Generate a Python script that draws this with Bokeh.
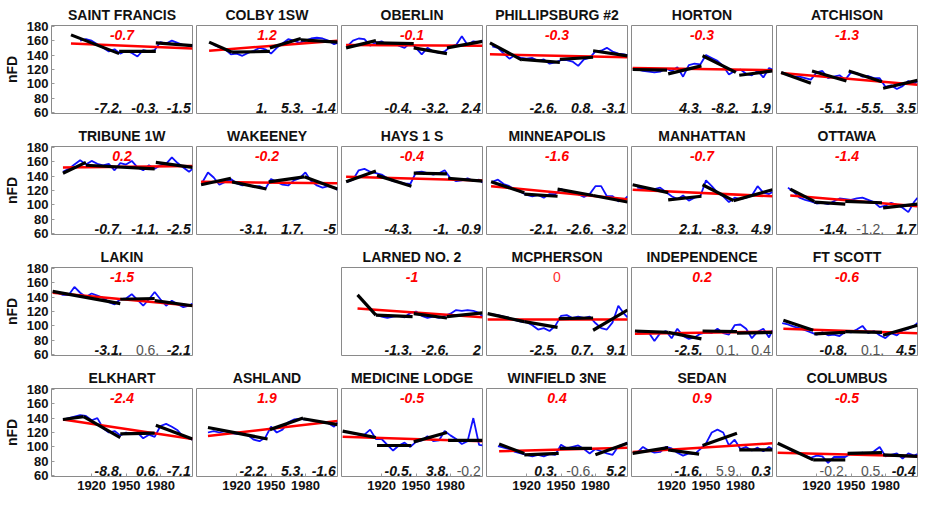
import numpy as np
from bokeh.plotting import figure
from bokeh.layouts import column, row, Spacer
from bokeh.models import Range1d, FixedTicker, LinearAxis
from bokeh.core.properties import value
from bokeh.embed import file_html
from bokeh.resources import INLINE

N = None
YEARS = [1890, 1895, 1900, 1905, 1910, 1915, 1920, 1925, 1930, 1935, 1940, 1945,
         1950, 1955, 1960, 1965, 1970, 1975, 1980, 1985, 1990, 1995, 2000, 2005, 2008]

# ---- station names (grid order, None = empty cell) ----
GRID = [
    ["SAINT FRANCIS", "COLBY 1SW", "OBERLIN", "PHILLIPSBURG #2", "HORTON", "ATCHISON"],
    ["TRIBUNE 1W", "WAKEENEY", "HAYS 1 S", "MINNEAPOLIS", "MANHATTAN", "OTTAWA"],
    ["LAKIN", None, "LARNED NO. 2", "MCPHERSON", "INDEPENDENCE", "FT SCOTT"],
    ["ELKHART", "ASHLAND", "MEDICINE LODGE", "WINFIELD 3NE", "SEDAN", "COLUMBUS"],
]

# ---- blue series: nFD per year of YEARS ----
SAINT_FRANCIS = [N, N, N, N, 160, 162, 160, 155, 150, 145, 148, 142, 146, 143, 138, 147, 145, 147, 158, 156, 160, 157, 154, 153, 153]
COLBY_1SW = [N, N, 154, 151, 148, 141, 142, 139, 143, 146, 150, 148, 142, 150, 156, 162, 160, 157, 160, 163, 164, 163, 160, 155, 157]
OBERLIN = [152, 160, 163, 162, 153, 157, 159, 154, 157, 153, 150, 157, 150, 141, 150, 145, 143, 145, 152, 154, 166, 154, 159, 158, 160]
PHILLIPSBURG = [152, 150, 142, 135, 140, 136, 135, 136, 132, 134, 128, 130, 133, 133, 131, 125, 134, 136, 145, 146, 150, 145, 142, 141, 140]
HORTON = [120, 118, 117, 116, 117, 121, 118, 123, 110, 126, 128, 127, 140, 136, 132, 125, 113, 118, 120, 114, 112, 118, 109, 122, 120]
ATCHISON = [116, 112, 110, 110, 108, 106, 116, 118, 108, 110, 112, 106, 116, 115, 110, 111, 108, 108, 96, 98, 93, 97, 104, 100, 104]
TRIBUNE_1W = [N, 146, 150, 156, 162, 156, 161, 157, 155, 157, 148, 158, 156, 161, 152, 148, 155, 150, 155, 157, 166, 158, 152, 146, 150]
WAKEENEY = [131, 145, 138, 128, 132, 136, 130, 127, 128, 125, 126, 122, 136, 132, 128, 127, 134, 137, 145, 133, 127, 124, 126, 124, 121]
HAYS_1S = [132, 135, 148, 150, 146, 144, 142, 137, 133, 132, 130, 129, 145, 146, 144, 142, 144, 148, 137, 133, 134, 137, 133, 135, 131]
MINNEAPOLIS = [132, 135, 129, 126, 121, 118, 114, 112, 114, 110, 115, 115, 122, 119, 117, 115, 111, 115, 126, 126, 112, 112, 105, 107, 112]
MANHATTAN = [124, 123, 122, 122, 124, 118, 112, 108, 113, 106, 110, 112, 134, 126, 117, 112, 104, 110, 108, 110, 113, 126, 117, 115, 118]
OTTAWA = [N, 124, 118, 110, 107, 105, 102, 103, 101, 105, 109, 108, 107, 109, 110, 107, 104, 97, 99, 103, 100, 96, 90, 104, 110]
LAKIN = [146, 143, 143, 154, 146, 140, 145, 142, 139, 133, 130, 137, 138, 144, 136, 128, 137, 147, 137, 128, 135, 130, 126, 128, 131]
LARNED_NO2 = [N, N, N, N, N, 116, 113, 111, 113, 114, 112, 118, 120, 114, 111, 113, 111, 114, 117, 122, 121, 122, 121, 118, 113]
MCPHERSON = [116, 115, 113, 111, 108, 106, 105, 101, 95, 97, 93, 100, 114, 115, 111, 113, 111, 113, 104, 97, 95, 105, 128, 117, 112]
INDEPENDENCE = [91, 91, 91, 79, 90, 93, 83, 96, 86, 82, 84, 89, 91, 90, 96, 90, 88, 101, 102, 96, 83, 92, 96, 84, 94]
FT_SCOTT = [104, 102, 99, 97, 94, 91, 88, 91, 87, 88, 86, 92, 91, 95, 100, 90, 93, 87, 83, 90, 87, 94, 96, 100, 104]
ELKHART = [N, 138, 140, 142, 144, 143, 137, 140, 126, 120, 122, 116, 120, 118, 120, 112, 117, 114, 129, 132, 128, 123, 114, 112, 110]
ASHLAND = [N, 120, 122, 120, 122, 119, 118, 118, 116, 110, 108, 113, 128, 120, 124, 134, 138, 139, 138, 137, 135, 134, 133, 128, 134]
MEDICINE_LODGE = [121, 119, 117, 117, 124, 111, 111, 103, 95, 102, 106, 100, 107, 109, 115, 108, 109, 122, 116, 111, 104, 108, 140, 103, 102]
WINFIELD_3NE = [N, 101, 99, 97, 93, 91, 89, 87, 89, 87, 90, 89, 103, 98, 100, 102, 97, 91, 97, 94, 91, 89, 101, 104, 106]
SEDAN = [92, 100, 95, 92, 93, 100, 98, 92, 88, 91, 90, 97, 105, 120, 124, 120, 102, 110, 97, 100, 95, 99, 94, 100, 97]
COLUMBUS = [102, 98, 93, 91, 88, 85, 88, 87, 78, 86, 86, 86, 91, 90, 92, 89, 94, 100, 87, 89, 91, 84, 91, 88, 90]

SERIES = [SAINT_FRANCIS, COLBY_1SW, OBERLIN, PHILLIPSBURG, HORTON, ATCHISON,
          TRIBUNE_1W, WAKEENEY, HAYS_1S, MINNEAPOLIS, MANHATTAN, OTTAWA,
          LAKIN, LARNED_NO2, MCPHERSON, INDEPENDENCE, FT_SCOTT,
          ELKHART, ASHLAND, MEDICINE_LODGE, WINFIELD_3NE, SEDAN, COLUMBUS]

# ---- red overall trend: start year, start value, end value (end year 2008) ----
TREND_START_YEAR = [1902, 1896, 1889, 1888, 1886, 1889, 1895, 1889, 1889, 1889, 1886, 1897,
                    1886, 1899, 1886, 1888, 1891, 1895, 1895, 1886, 1896, 1886, 1886]
TREND_START = [156, 146, 154, 141, 122, 115, 152, 132, 139, 126, 121, 113,
               146, 124, 109, 89, 96, 138, 115, 114, 94, 93, 92]
TREND_END = [149, 160, 153, 137, 119, 99, 154, 130, 134, 108, 112, 98,
             128, 112, 109, 92, 90, 111, 136, 108, 99, 105, 87]
TREND_END_YEAR = 2008
TREND_LABEL = ["-0.7", "1.2", "-0.1", "-0.3", "-0.3", "-1.3", "0.2", "-0.2", "-0.4", "-1.6", "-0.7", "-1.4",
               "-1.5", "-1", "0", "0.2", "-0.6", "-2.4", "1.9", "-0.5", "0.4", "0.9", "-0.5"]
TREND_SIG = [1, 1, 1, 1, 1, 1, 1, 1, 1, 1, 1, 1, 1, 1, 0, 1, 1, 1, 1, 1, 1, 1, 1]

# ---- black piecewise segments: (year0, value0, year1, value1) ----
SEG_SAINT_FRANCIS = [(1902, 168, 1944, 142), (1944, 145, 1976, 145), (1976, 157, 2008, 153)]
SEG_COLBY_1SW = [(1896, 158, 1916, 144), (1916, 144, 1949, 145), (1949, 150, 1976, 163), (1976, 161, 2008, 158)]
SEG_OBERLIN = [(1889, 150, 1915, 160), (1915, 157, 1948, 156), (1948, 150, 1977, 142), (1977, 150, 2008, 159)]
SEG_PHILLIPSBURG = [(1888, 157, 1916, 133), (1916, 134, 1949, 130), (1949, 134, 1978, 137), (1978, 146, 2008, 139)]
SEG_HORTON = [(1886, 120, 1916, 119), (1917, 114, 1946, 125), (1947, 139, 1976, 116), (1979, 112, 2008, 118)]
SEG_ATCHISON = [(1889, 116, 1915, 101), (1916, 118, 1946, 104), (1948, 118, 1977, 103), (1978, 94, 2008, 105)]
SEG_TRIBUNE_1W = [(1895, 144, 1915, 159), (1915, 155, 1975, 150), (1976, 159, 2008, 152)]
SEG_WAKEENEY = [(1889, 128, 1915, 137), (1916, 132, 1946, 122), (1948, 132, 1979, 139), (1979, 139, 2008, 122)]
SEG_HAYS_1S = [(1889, 132, 1915, 147), (1916, 141, 1946, 126), (1948, 144, 1977, 143), (1978, 137, 2008, 133)]
SEG_MINNEAPOLIS = [(1889, 132, 1918, 117), (1918, 115, 1947, 112), (1947, 122, 1978, 113), (1978, 113, 2008, 104)]
SEG_MANHATTAN = [(1886, 128, 1917, 117), (1917, 107, 1946, 112), (1947, 128, 1974, 106), (1974, 106, 2008, 121)]
SEG_OTTAWA = [(1897, 122, 1918, 105), (1918, 104, 1945, 101), (1945, 105, 1977, 103), (1978, 96, 2008, 101)]
SEG_LAKIN = [(1886, 148, 1945, 131), (1945, 137, 1975, 138), (1975, 135, 2008, 128)]
SEG_LARNED_NO2 = [(1899, 143, 1915, 115), (1915, 115, 1947, 113), (1948, 117, 1977, 111), (1977, 113, 2008, 118)]
SEG_MCPHERSON = [(1886, 117, 1918, 106), (1918, 106, 1947, 98), (1948, 110, 1978, 111), (1978, 94, 2008, 122)]
SEG_INDEPENDENCE = [(1888, 93, 1917, 91), (1917, 91, 1946, 82), (1947, 93, 1977, 92), (1977, 90, 2008, 91)]
SEG_FT_SCOTT = [(1891, 108, 1917, 94), (1918, 89, 1945, 91), (1945, 92, 1977, 91), (1978, 87, 2008, 101)]
SEG_ELKHART = [(1895, 138, 1913, 142), (1913, 142, 1945, 113), (1945, 118, 1975, 119), (1976, 130, 2008, 111)]
SEG_ASHLAND = [(1895, 127, 1947, 111), (1949, 124, 1978, 140), (1978, 139, 2008, 131)]
SEG_MEDICINE_LODGE = [(1886, 122, 1915, 113), (1916, 102, 1946, 102), (1948, 107, 1977, 120), (1978, 109, 2008, 109)]
SEG_WINFIELD_3NE = [(1896, 104, 1918, 91), (1918, 89, 1948, 91), (1949, 98, 1977, 98), (1980, 89, 2008, 105)]
SEG_SEDAN = [(1886, 91, 1917, 99), (1917, 96, 1944, 90), (1947, 102, 1977, 119), (1979, 96, 2008, 96)]
SEG_COLUMBUS = [(1886, 105, 1917, 82), (1917, 82, 1945, 82), (1947, 91, 1977, 92), (1978, 89, 2008, 87)]

SEGMENTS = [SEG_SAINT_FRANCIS, SEG_COLBY_1SW, SEG_OBERLIN, SEG_PHILLIPSBURG, SEG_HORTON, SEG_ATCHISON,
            SEG_TRIBUNE_1W, SEG_WAKEENEY, SEG_HAYS_1S, SEG_MINNEAPOLIS, SEG_MANHATTAN, SEG_OTTAWA,
            SEG_LAKIN, SEG_LARNED_NO2, SEG_MCPHERSON, SEG_INDEPENDENCE, SEG_FT_SCOTT,
            SEG_ELKHART, SEG_ASHLAND, SEG_MEDICINE_LODGE, SEG_WINFIELD_3NE, SEG_SEDAN, SEG_COLUMBUS]

# ---- segment slope labels and significance (1 = bold black, 0 = plain gray) ----
SEG_LABELS = [("-7.2", "-0.3", "-1.5"), ("1", "5.3", "-1.4"), ("-0.4", "-3.2", "2.4"),
              ("-2.6", "0.8", "-3.1"), ("4.3", "-8.2", "1.9"), ("-5.1", "-5.5", "3.5"),
              ("-0.7", "-1.1", "-2.5"), ("-3.1", "1.7", "-5"), ("-4.3", "-1", "-0.9"),
              ("-2.1", "-2.6", "-3.2"), ("2.1", "-8.3", "4.9"), ("-1.4", "-1.2", "1.7"),
              ("-3.1", "0.6", "-2.1"), ("-1.3", "-2.6", "2"), ("-2.5", "0.7", "9.1"),
              ("-2.5", "0.1", "0.4"), ("-0.8", "0.1", "4.5"),
              ("-8.8", "0.6", "-7.1"), ("-2.2", "5.3", "-1.6"), ("-0.5", "3.8", "-0.2"),
              ("0.3", "-0.6", "5.2"), ("-1.6", "5.9", "0.3"), ("-0.2", "0.5", "-0.4")]
SEG_SIG = [(1, 1, 1), (1, 1, 1), (1, 1, 1), (1, 1, 1), (1, 1, 1), (1, 1, 1),
           (1, 1, 1), (1, 1, 1), (1, 1, 1), (1, 1, 1), (1, 1, 1), (1, 0, 1),
           (1, 0, 1), (1, 1, 1), (1, 1, 1), (1, 0, 0), (1, 0, 1),
           (1, 1, 1), (1, 1, 1), (1, 1, 0), (1, 0, 1), (1, 0, 1), (0, 0, 1)]

Y_TICKS = [60, 80, 100, 120, 140, 160, 180]
X_TICKS = [1920, 1950, 1980]

FONT = "Liberation Sans"
X0, X1 = 1885, 2008
Y0, Y1 = 59, 181
FW, FH = 141, 88
TOP, BOT, BOT_LAST = 25, 8, 22
LABEL_X = [1947, 1979, 2006.5]
LABEL_Y = 67
TITLE_Y = 168


def make_panel(idx, name, r, c):
    left = 49 if c == 0 else 2
    bottom = BOT_LAST if r == 3 else BOT
    p = figure(title=name, frame_width=FW, frame_height=FH,
               x_range=Range1d(X0, X1), y_range=Range1d(Y0, Y1),
               x_axis_type=None, y_axis_type=None,
               output_backend="svg", toolbar_location=None,
               min_border_left=left, min_border_right=2,
               min_border_top=TOP, min_border_bottom=bottom)
    p.title.align = "center"
    p.title.text_font = FONT
    p.title.text_font_size = "14px"
    p.title.text_font_style = "bold"
    p.title.text_color = "#111111"
    p.title.standoff = 5
    p.outline_line_color = "#8a8a8a"
    p.outline_line_width = 1
    p.background_fill_color = "white"
    p.border_fill_color = "white"

    if c == 0:
        ya = LinearAxis(ticker=FixedTicker(ticks=Y_TICKS), axis_label="nFD")
        ya.axis_line_color = None
        ya.major_tick_in = 3
        ya.major_tick_out = 0
        ya.major_tick_line_color = "#9a9a9a"
        ya.minor_tick_line_color = None
        ya.major_label_text_font = FONT
        ya.major_label_text_font_size = "13px"
        ya.major_label_text_font_style = "bold"
        ya.major_label_text_color = "#111111"
        ya.major_label_standoff = 3
        ya.axis_label_text_font = FONT
        ya.axis_label_text_font_size = "14px"
        ya.axis_label_text_font_style = "bold"
        ya.axis_label_text_color = "#111111"
        ya.axis_label_standoff = 4
        p.add_layout(ya, "left")
    if r == 3:
        xa = LinearAxis(ticker=FixedTicker(ticks=X_TICKS))
        xa.axis_line_color = None
        xa.major_tick_in = 3
        xa.major_tick_out = 0
        xa.major_tick_line_color = "#9a9a9a"
        xa.minor_tick_line_color = None
        xa.major_label_text_font = FONT
        xa.major_label_text_font_size = "13px"
        xa.major_label_text_font_style = "bold"
        xa.major_label_text_color = "#111111"
        xa.major_label_standoff = 4
        p.add_layout(xa, "below")

    blue = np.array(SERIES[idx], dtype=float)
    p.line(YEARS, blue, line_color="#1010ff", line_width=1.8)
    p.line([TREND_START_YEAR[idx], TREND_END_YEAR], [TREND_START[idx], TREND_END[idx]],
           line_color="#ff0000", line_width=2.5)
    segs = SEGMENTS[idx]
    p.segment(x0=[s[0] for s in segs], y0=[s[1] for s in segs],
              x1=[s[2] for s in segs], y1=[s[3] for s in segs],
              line_color="black", line_width=3.2)

    sig = TREND_SIG[idx]
    p.text(x=[(X0 + X1) / 2], y=[TITLE_Y], text=[TREND_LABEL[idx]],
           text_align="center", text_baseline="middle",
           text_font=value(FONT), text_font_size="14px",
           text_font_style="bold italic" if sig else "normal",
           text_color="#ff0000" if sig else "#ff3030")

    labels = SEG_LABELS[idx]
    for k in range(3):
        txt = labels[k] + ("," if k < 2 else "")
        s = SEG_SIG[idx][k]
        p.text(x=[LABEL_X[k]], y=[LABEL_Y], text=[txt],
               text_align="right", text_baseline="middle",
               text_font=value(FONT), text_font_size="14px",
               text_font_style="bold italic" if s else "normal",
               text_color="#111111" if s else "#555555")
    return p


rows = []
idx = 0
for r, names in enumerate(GRID):
    items = []
    for c, name in enumerate(names):
        if name is None:
            items.append(Spacer(width=2 + FW + 2, height=TOP + FH + BOT))
        else:
            items.append(make_panel(idx, name, r, c))
            idx += 1
    rows.append(row(*items))

layout = column(*rows)
open("out.html", "w").write(file_html(layout, INLINE))
